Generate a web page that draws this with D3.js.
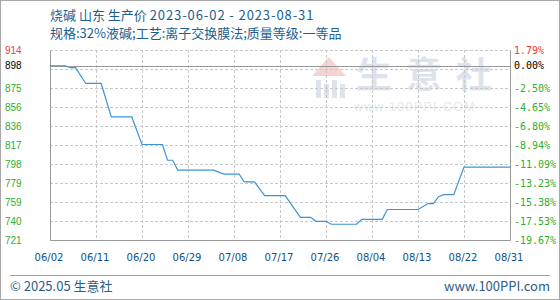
<!DOCTYPE html>
<html>

<head>
  <meta charset="utf-8">
  <script src="https://d3js.org/d3.v7.min.js"></script>
  <style>
    body { margin: 0; background: #fff; }
    svg { display: block; }
  </style>
</head>

<body>
  <script>
    // Chart data
    const titleName = "烧碱 山东 生产价 ";
    const titleRange = "2023-06-02 - 2023-08-31";
    const titleLine2 = "规格:32%液碱;工艺:离子交换膜法;质量等级:一等品";
    const dates = ["06/02", "06/05", "06/06", "06/07", "06/09", "06/12", "06/14", "06/18", "06/20", "06/24",
      "06/25", "06/26", "06/27", "07/04", "07/05", "07/06", "07/09", "07/10", "07/12", "07/14",
      "07/18", "07/21", "07/23", "07/24", "07/26", "07/27", "08/01", "08/02", "08/06", "08/07",
      "08/13", "08/15", "08/16", "08/17", "08/18", "08/20", "08/22", "08/31"];
    const prices = [898, 898, 896, 896, 880, 880, 846, 846, 818, 818,
      802, 802, 792, 792, 790, 788, 788, 780, 780, 766,
      766, 744, 744, 740, 740, 737, 737, 742, 742, 752,
      752, 758, 758, 765, 767, 767, 795, 795];
    const xTickLabels = ["06/02", "06/11", "06/20", "06/29", "07/08", "07/17", "07/26", "08/04", "08/13", "08/22", "08/31"];
    const yLabels = ["914", "898", "875", "856", "836", "817", "798", "779", "759", "740", "721"];
    const pctLabels = ["1.79%", "0.00%", "-2.50%", "-4.65%", "-6.80%", "-8.94%", "-11.09%", "-13.23%", "-15.38%", "-17.53%", "-19.67%"];
    const yMin = 721, yMax = 914, basePrice = 898;

    const width = 560, height = 300;
    const margin = { top: 50, right: 50, bottom: 60, left: 50 };

    const parseDate = d3.timeParse("%Y/%m/%d");
    const toDate = s => parseDate("2023/" + s);

    const svg = d3.select("body").append("svg")
      .attr("width", width)
      .attr("height", height);

    // outer frame
    svg.append("rect")
      .attr("x", 0.5).attr("y", 0.5)
      .attr("width", width - 1).attr("height", height - 1)
      .attr("fill", "#fff").attr("stroke", "#a8a8a8");

    const x = d3.scaleTime()
      .domain([toDate(xTickLabels[0]), toDate(xTickLabels[xTickLabels.length - 1])])
      .range([margin.left, width - margin.right]);

    const y = d3.scaleLinear()
      .domain([yMin, yMax])
      .range([height - margin.bottom, margin.top]);

    // grid levels: 10 equal steps between min and max
    const gridVals = d3.range(11).map(k => yMax - k * (yMax - yMin) / 10);
    // label levels: top, base price, then grid levels
    const labelVals = gridVals.map((v, i) => i === 1 ? basePrice : v);

    // watermark
    const wm = svg.append("g").attr("class", "watermark");
    wm.append("path")
      .attr("d", "M312,76 L329,57 L346,76 Z")
      .attr("fill", "#f7d3d3");
    [316, 324, 332, 340].forEach((bx, i) => {
      wm.append("rect")
        .attr("x", bx).attr("y", 80 + (i % 2) * 4)
        .attr("width", 5).attr("height", 18 - (i % 2) * 4)
        .attr("fill", "#dfe3ea");
    });
    wm.append("text")
      .attr("x", 356).attr("y", 88)
      .attr("font-family", "Noto Sans CJK SC")
      .attr("font-size", 36)
      .attr("font-weight", "bold")
      .attr("letter-spacing", 14)
      .attr("fill", "#dde3ec")
      .text("生意社");
    wm.append("text")
      .attr("x", 354).attr("y", 111)
      .attr("font-family", "Liberation Sans, Arial")
      .attr("font-size", 12)
      .attr("letter-spacing", 1.6)
      .attr("fill", "#e6e9ee")
      .text("www.100PPI.COM");

    // horizontal grid
    svg.append("g")
      .selectAll("line")
      .data(gridVals)
      .join("line")
      .attr("x1", margin.left).attr("x2", width - margin.right)
      .attr("y1", d => Math.round(y(d)) + 0.5).attr("y2", d => Math.round(y(d)) + 0.5)
      .attr("stroke", "#c8c8c8")
      .attr("stroke-dasharray", "3,2");

    // vertical grid
    svg.append("g")
      .selectAll("line")
      .data(xTickLabels)
      .join("line")
      .attr("x1", d => Math.round(x(toDate(d))) + 0.5).attr("x2", d => Math.round(x(toDate(d))) + 0.5)
      .attr("y1", margin.top).attr("y2", height - margin.bottom)
      .attr("stroke", "#c8c8c8")
      .attr("stroke-dasharray", "3,2");

    // base price line
    svg.append("line")
      .attr("x1", margin.left).attr("x2", width - margin.right)
      .attr("y1", Math.round(y(basePrice)) + 0.5).attr("y2", Math.round(y(basePrice)) + 0.5)
      .attr("stroke", "#999");

    // plot frame: left, bottom, right
    const x0 = margin.left + 0.5, x1 = width - margin.right + 0.5;
    const yTop = margin.top + 0.5, yBot = height - margin.bottom + 0.5;
    svg.append("path")
      .attr("d", `M${x0},${yTop}V${yBot}H${x1}V${yTop}`)
      .attr("fill", "none")
      .attr("stroke", "#999");

    // price line
    const line = d3.line()
      .x((d, i) => x(toDate(dates[i])))
      .y(d => y(d));

    svg.append("path")
      .datum(prices)
      .attr("d", line)
      .attr("fill", "none")
      .attr("stroke", "#3b95d5")
      .attr("stroke-width", 1.2);

    const colorFor = i => i === 0 ? "#f23c3c" : (i === 1 ? "#000" : "#2fad2f");

    // left labels
    svg.append("g")
      .selectAll("text")
      .data(yLabels)
      .join("text")
      .attr("x", 5)
      .attr("y", (d, i) => y(labelVals[i]))
      .attr("dy", "0.35em")
      .attr("font-family", "Liberation Sans, Arial")
      .attr("font-size", 10)
      .attr("fill", (d, i) => colorFor(i))
      .text(d => d);

    // right labels
    svg.append("g")
      .selectAll("text")
      .data(pctLabels)
      .join("text")
      .attr("x", width - margin.right + 4)
      .attr("y", (d, i) => y(labelVals[i]))
      .attr("dy", "0.35em")
      .attr("font-family", "DejaVu Sans Mono")
      .attr("font-size", 10)
      .attr("fill", (d, i) => colorFor(i))
      .text(d => d);

    // x labels
    svg.append("g")
      .selectAll("text")
      .data(xTickLabels)
      .join("text")
      .attr("x", d => x(toDate(d)) - 1)
      .attr("y", 261)
      .attr("text-anchor", "middle")
      .attr("font-family", "DejaVu Sans")
      .attr("font-size", 10)
      .attr("fill", "#0f5286")
      .text(d => d);

    // titles
    const t1 = svg.append("text")
      .attr("x", 50).attr("y", 20)
      .attr("font-family", "Noto Sans CJK SC")
      .attr("font-size", 13)
      .attr("fill", "#1d5f8f");
    t1.append("tspan").text(titleName);
    t1.append("tspan").attr("letter-spacing", 0.9).text(titleRange);
    svg.append("text")
      .attr("x", 50).attr("y", 38)
      .attr("font-family", "Noto Sans CJK SC")
      .attr("font-size", 13)
      .attr("fill", "#1d5f8f")
      .text(titleLine2);

    // footer
    svg.append("line")
      .attr("x1", 10).attr("x2", 550)
      .attr("y1", 275.5).attr("y2", 275.5)
      .attr("stroke", "#a0a0a0");
    svg.append("text")
      .attr("x", 10).attr("y", 291)
      .attr("font-family", "Noto Sans CJK SC")
      .attr("font-size", 13)
      .attr("fill", "#2a5d8c")
      .text("© 2025.05 生意社");
    svg.append("text")
      .attr("x", 550).attr("y", 291)
      .attr("text-anchor", "end")
      .attr("font-family", "Noto Sans CJK SC")
      .attr("font-size", 13)
      .attr("fill", "#2a5d8c")
      .text("www.100PPI.com");
  </script>
</body>

</html>
